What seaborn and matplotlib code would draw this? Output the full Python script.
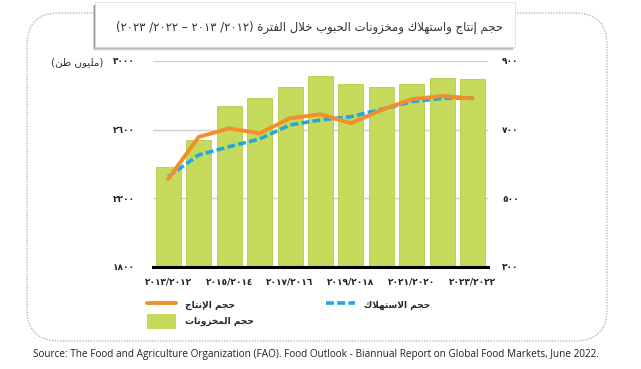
import numpy as np
import matplotlib
matplotlib.use('Agg')
import matplotlib.pyplot as plt
import seaborn as sns
from matplotlib.patches import FancyBboxPatch, Rectangle, Patch
from matplotlib.lines import Line2D

# ---- data ----
seasons = ['٢٠١٣/٢٠١٢', '٢٠١٤/٢٠١٣', '٢٠١٥/٢٠١٤', '٢٠١٦/٢٠١٥', '٢٠١٧/٢٠١٦', '٢٠١٨/٢٠١٧',
           '٢٠١٩/٢٠١٨', '٢٠٢٠/٢٠١٩', '٢٠٢١/٢٠٢٠', '٢٠٢٢/٢٠٢١', '٢٠٢٣/٢٠٢٢']
production = [2312, 2557, 2607, 2578, 2666, 2689, 2637, 2714, 2777, 2796, 2782]
consumption = [2325, 2452, 2500, 2545, 2627, 2656, 2675, 2718, 2763, 2782, 2786]
stocks = [591, 670, 768, 792, 823, 856, 832, 825, 834, 851, 847]

left_ticks = [1800, 2200, 2600, 3000]
left_labels = ['١٨٠٠', '٢٢٠٠', '٢٦٠٠', '٣٠٠٠']
right_ticks = [300, 500, 700, 900]
right_labels = ['٣٠٠', '٥٠٠', '٧٠٠', '٩٠٠']

# ---- minimal arabic shaping (matplotlib has no RTL / joining support) ----
FORMS = {'ا': (0xFE8D, 2), 'إ': (0xFE87, 2), 'ب': (0xFE8F, 4), 'ة': (0xFE93, 2),
         'ت': (0xFE95, 4), 'ج': (0xFE9D, 4), 'ح': (0xFEA1, 4), 'خ': (0xFEA5, 4),
         'ر': (0xFEAD, 2), 'ز': (0xFEAF, 2), 'س': (0xFEB1, 4), 'ط': (0xFEC1, 4),
         'ف': (0xFED1, 4), 'ك': (0xFED9, 4), 'ل': (0xFEDD, 4), 'م': (0xFEE1, 4),
         'ن': (0xFEE5, 4), 'ه': (0xFEE9, 4), 'و': (0xFEED, 2), 'ي': (0xFEF1, 4)}
LAM_ALEF = {'ا': 0xFEFB, 'إ': 0xFEF9}


def ar(text):
    out = []
    i = 0
    n = len(text)
    while i < n:
        c = text[i]
        if c not in FORMS:
            out.append(c)
            i += 1
            continue
        prev = text[i - 1] if i > 0 else ''
        link_prev = prev in FORMS and FORMS[prev][1] == 4
        if c == 'ل' and i + 1 < n and text[i + 1] in LAM_ALEF:
            out.append(chr(LAM_ALEF[text[i + 1]] + (1 if link_prev else 0)))
            i += 2
            continue
        base, nf = FORMS[c]
        nxt = text[i + 1] if i + 1 < n else ''
        link_next = nf == 4 and nxt in FORMS
        if link_prev and link_next:
            form = 3
        elif link_prev:
            form = 1
        elif link_next:
            form = 2
        else:
            form = 0
        out.append(chr(base + form))
        i += 1
    s = ''.join(out)[::-1]
    return s.translate(str.maketrans('()', ')('))


title = '(٢٠٢٣ /٢٠٢٢ – ٢٠١٣ /٢٠١٢) ' + ar('حجم إنتاج واستهلاك ومخزونات الحبوب خلال الفترة')
unit = ar('(مليون طن)')
lbl_prod = ar('حجم الإنتاج')
lbl_cons = ar('حجم الاستهلاك')
lbl_stock = ar('حجم المخزونات')
source = ('Source: The Food and Agriculture Organization (FAO). Food Outlook - '
          'Biannual Report on Global Food Markets, June 2022.')

GREEN = '#c5d95a'
ORANGE = '#f28e2b'
BLUE = '#21a8e0'

sns.set_theme(style='white')
plt.rcParams['font.family'] = ['DejaVu Sans']

W, H = 641, 369
fig = plt.figure(figsize=(W / 100, H / 100), dpi=100)

# decoration layer in pixel coordinates
bg = fig.add_axes([0, 0, 1, 1], zorder=-5)
bg.set_xlim(0, W)
bg.set_ylim(H, 0)
bg.axis('off')
bg.add_patch(FancyBboxPatch((27, 13), 580, 328, boxstyle='round,pad=0,rounding_size=32',
                            fill=False, edgecolor='#b5b5b5', linestyle=(0, (1, 1)), lw=1))
for k, a in enumerate([0.10, 0.16, 0.22, 0.30]):
    bg.add_patch(Rectangle((95 - 2 + k * 0.3, 5), 420, 46 - k, color='#555555', alpha=a, lw=0))
bg.add_patch(Rectangle((95, 2), 420, 45, facecolor='white', edgecolor='#dddddd', lw=0.5))
bg.text(503, 27, title, ha='right', va='center', fontsize=8.4, color='#333333')

# main chart
ax = fig.add_axes([153 / W, 1 - 266.7 / H, (488 - 153) / W, (266.7 - 61) / H])
sns.barplot(x=seasons, y=stocks, color=GREEN, saturation=1, width=0.82,
            edgecolor='#b6ca4c', linewidth=0.6, ax=ax)
ax2 = ax.twinx()
xpos = np.arange(len(seasons))
sns.lineplot(x=xpos, y=consumption, ax=ax2, color=BLUE, lw=2.6,
             linestyle=(0, (2.2, 0.9)))
sns.lineplot(x=xpos, y=production, ax=ax2, color=ORANGE, lw=2.8)

ax.set_ylim(300, 900)
ax2.set_ylim(1800, 3000)
ax.set_xlim(-0.5, 10.5)
ax.yaxis.tick_right()
ax2.yaxis.tick_left()
ax.set_yticks(right_ticks)
ax.set_yticklabels(right_labels)
ax2.set_yticks(left_ticks)
ax2.set_yticklabels(left_labels)
ax.set_xticks(xpos[::2])
ax.set_xticklabels(seasons[::2])
ax.set_xlabel('')
ax.set_ylabel('')
ax2.set_ylabel('')

ax.set_axisbelow(True)
ax.yaxis.grid(True, color='#cfcfcf', lw=1)
ax.xaxis.grid(False)
for s in ['left', 'right', 'top']:
    ax.spines[s].set_visible(False)
for s in ax2.spines.values():
    s.set_visible(False)
ax.spines['bottom'].set_color('black')
ax.spines['bottom'].set_linewidth(2.2)

ax.tick_params(axis='y', length=0, pad=10, labelsize=6.5, labelcolor='#222222')
ax.tick_params(axis='x', length=0, pad=8, labelsize=6.5, labelcolor='#222222')
ax2.tick_params(axis='y', length=0, pad=13, labelsize=6.5, labelcolor='#222222')
for t in ax.get_yticklabels() + ax.get_xticklabels() + ax2.get_yticklabels():
    t.set_fontweight('bold')

fig.text(103 / W, 1 - 62 / H, unit, ha='right', va='center', fontsize=7.5, color='#3d3128')

# legend
handles = [Line2D([], [], color=ORANGE, lw=2.8),
           Patch(facecolor=GREEN, edgecolor='none'),
           Line2D([], [], color=BLUE, lw=2.6, linestyle=(0, (2.2, 0.9)))]
labels = [lbl_prod, lbl_stock, lbl_cons]
fig.legend(handles, labels, loc='upper left', bbox_to_anchor=(143 / W, 1 - 294 / H),
           ncol=2, frameon=False, prop={'weight': 'bold', 'size': 6.5},
           handlelength=3.3, handleheight=2.2, handletextpad=1.0,
           labelspacing=0.1, columnspacing=7.9, borderaxespad=0)

fig.text(316 / W, 1 - 354 / H, source, ha='center', va='center', fontsize=7.2,
         family=['Open Sans', 'DejaVu Sans'], color='#222222')

fig.savefig('out.png', dpi=100)
